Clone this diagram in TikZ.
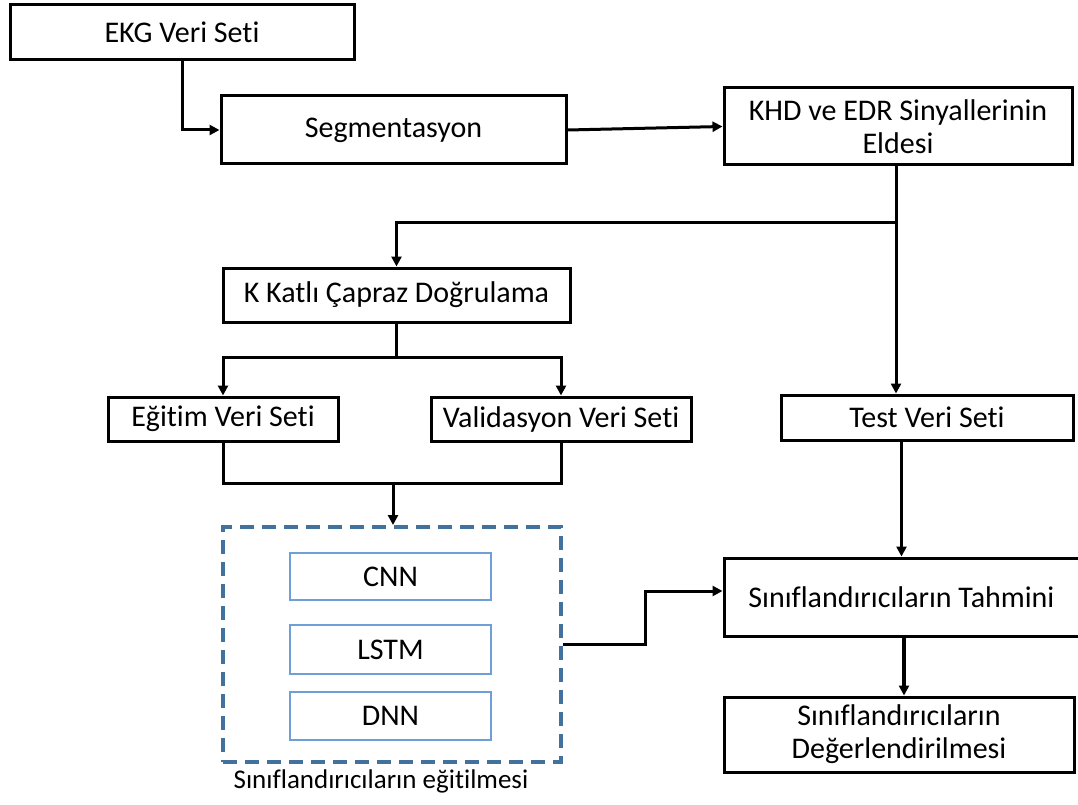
\documentclass[tikz,border=0pt]{standalone}
\usepackage{fontspec}
\setmainfont[Ligatures=NoCommon]{Carlito}
\usetikzlibrary{arrows.meta}
\begin{document}
\begin{tikzpicture}[x=1pt,y=-1pt,
  box/.style={draw=black,line width=3pt,fill=white,align=center,font=\fontsize{30}{33}\selectfont,inner sep=0pt},
  mbox/.style={draw={rgb,255:red,110;green,160;blue,215},line width=1.6pt,align=center,font=\fontsize{30}{33}\selectfont,inner sep=0pt,minimum width=201pt},
  conn/.style={line width=3pt,black},
  arr/.style={conn,-{Triangle[length=10pt,width=10pt]}}
]
\definecolor{dashblue}{RGB}{65,113,156}
\useasboundingbox (0,0) rectangle (1078,805);
\node[box,minimum width=344pt,minimum height=55pt] (ekg) at (182,32.5) {EKG Veri Seti};
\node[box,minimum width=345pt,minimum height=68pt] (seg) at (393.5,130) {Segmentasyon};
\node[box,minimum width=348pt,minimum height=77pt] (khd) at (898,126.5) {KHD ve EDR Sinyallerinin\\Eldesi};
\node[box,minimum width=347pt,minimum height=54pt] (kkat) at (396.5,295) {K Katlı Çapraz Doğrulama};
\node[box,minimum width=230pt,minimum height=44pt] (egt) at (223,419) {Eğitim Veri Seti};
\node[box,minimum width=260pt,minimum height=44pt] (val) at (561,419) {Validasyon Veri Seti};
\node[box,minimum width=292pt,minimum height=45pt] (test) at (927,417.5) {Test Veri Seti};
\node[draw=dashblue,line width=4pt,dash pattern=on 14pt off 8pt,minimum width=338pt,minimum height=235pt,inner sep=0pt] (dash) at (392,644.5) {};
\node[mbox,minimum height=47pt] (cnn) at (390.5,576.5) {CNN};
\node[mbox,minimum height=49pt] (lstm) at (390.5,649.5) {LSTM};
\node[mbox,minimum height=48pt] (dnn) at (390.5,716) {DNN};
\node[font=\fontsize{27}{31}\selectfont] (lbl) at (381,781) {Sınıflandırıcıların eğitilmesi};
\node[box,minimum width=355pt,minimum height=78pt] (tah) at (901.5,597) {Sınıflandırıcıların Tahmini};
\node[box,minimum width=350pt,minimum height=75pt] (deg) at (899,734.5) {Sınıflandırıcıların\\Değerlendirilmesi};
% connectors
\draw[arr] (ekg.south) |- (seg.west);
\draw[arr] (seg.east) -- (khd.west);
\coordinate (br) at (896,222);
\draw[arr] (khd.south -| br) -- (br) -- (br |- test.north);
\draw[arr] (br) -| (kkat.north);
\coordinate (k1) at (396.5,357);
\draw[conn] (kkat.south) -- (k1);
\draw[arr] (k1) -| (egt.north);
\draw[arr] (k1) -| (val.north);
\coordinate (m1) at (393,483);
\draw[conn] (egt.south) |- (m1) -| (val.south);
\draw[arr] (m1) -- (dash.north -| m1);
\draw[arr] (tah.north |- test.south) -- (tah.north);
\draw[arr] (dash.east) -- ++(82,0) |- ([yshift=6pt]tah.west);
\draw[arr,line width=4pt] (deg.north -| 904,0) ++(0,-61) -- (deg.north -| 904,0);
\end{tikzpicture}
\end{document}
